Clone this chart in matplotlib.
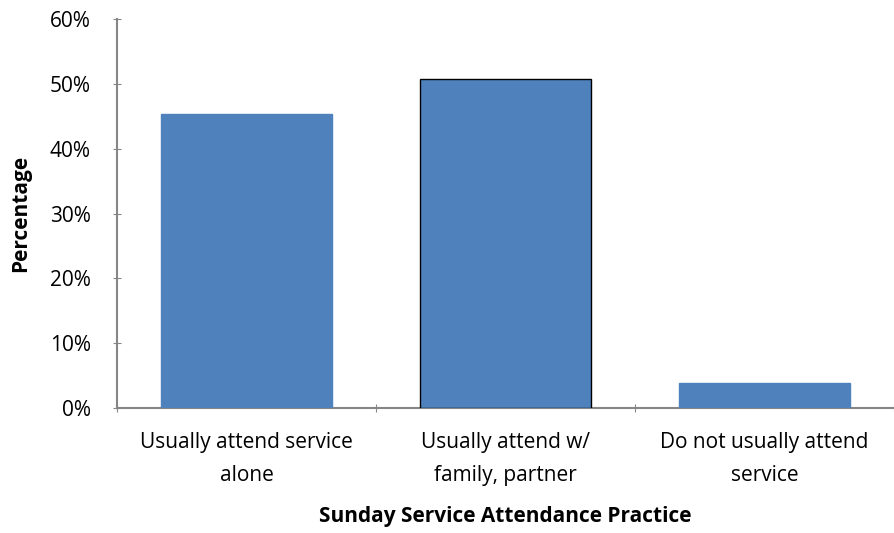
import matplotlib
matplotlib.use("Agg")
import matplotlib.pyplot as plt
from matplotlib.ticker import FuncFormatter

# data
categories = ["Usually attend service\nalone", "Usually attend w/\nfamily, partner", "Do not usually attend\nservice"]
values = [45.4, 50.7, 3.9]
edge_colors = ["#4F81BD", "black", "#4F81BD"]

plt.rcParams['font.family'] = ['Open Sans', 'DejaVu Sans']

fig = plt.figure(figsize=(8.95, 5.33), dpi=100)
ax = fig.add_axes([117 / 895, 125 / 533, 777 / 895, 389 / 533])

x = range(len(categories))
ax.bar(x, values, width=0.66, color="#4F81BD", edgecolor=edge_colors, linewidth=1.0, zorder=3)

ax.set_xlim(-0.5, len(categories) - 0.5)
ax.set_ylim(0, 60)
ax.set_yticks(range(0, 61, 10))
ax.yaxis.set_major_formatter(FuncFormatter(lambda v, p: f"{int(v)}%"))

ax.set_xticks([-0.5, 0.5, 1.5, 2.5])
ax.set_xticklabels([])
ax.set_xticks(list(x), minor=True)
ax.set_xticklabels(categories, minor=True, fontsize=15, linespacing=1.8)
ax.tick_params(axis="x", which="minor", length=0, pad=17)
ax.tick_params(axis="x", which="major", length=6, color="#868686", direction="inout")
ax.tick_params(axis="y", length=6, color="#868686", direction="inout", labelsize=15, pad=16)

for side in ["top", "right"]:
    ax.spines[side].set_visible(False)
for side in ["left", "bottom"]:
    ax.spines[side].set_color("#868686")
    ax.spines[side].set_linewidth(1.5)

ax.set_ylabel("Percentage", fontsize=15, fontweight="bold", labelpad=13)
ax.set_xlabel("Sunday Service Attendance Practice", fontsize=15, fontweight="bold", labelpad=14)

fig.savefig("out.png", dpi=100)
